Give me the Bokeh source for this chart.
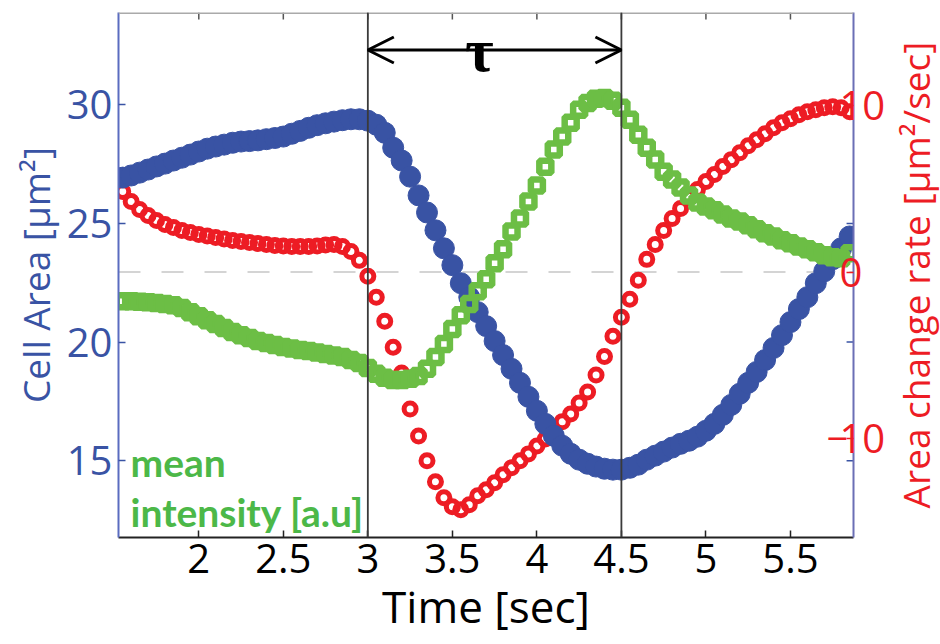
from bokeh.plotting import figure
from bokeh.layouts import row
from bokeh.models import Range1d, LinearAxis, FixedTicker, Span, Arrow, OpenHead, Label
from bokeh.embed import file_html
from bokeh.resources import INLINE

# ---------------- data ----------------
time_s = [1.55, 1.60, 1.65, 1.70, 1.75, 1.80, 1.85, 1.90, 1.95, 2.00,
          2.05, 2.10, 2.15, 2.20, 2.25, 2.30, 2.35, 2.40, 2.45, 2.50,
          2.55, 2.60, 2.65, 2.70, 2.75, 2.80, 2.85, 2.90, 2.95, 3.00,
          3.05, 3.10, 3.15, 3.20, 3.25, 3.30, 3.35, 3.40, 3.45, 3.50,
          3.55, 3.60, 3.65, 3.70, 3.75, 3.80, 3.85, 3.90, 3.95, 4.00,
          4.05, 4.10, 4.15, 4.20, 4.25, 4.30, 4.35, 4.40, 4.45, 4.50,
          4.55, 4.60, 4.65, 4.70, 4.75, 4.80, 4.85, 4.90, 4.95, 5.00,
          5.05, 5.10, 5.15, 5.20, 5.25, 5.30, 5.35, 5.40, 5.45, 5.50,
          5.55, 5.60, 5.65, 5.70, 5.75, 5.80, 5.85]

cell_area = [26.93, 27.02, 27.14, 27.27, 27.40, 27.52, 27.65, 27.77, 27.90, 28.03,
             28.15, 28.24, 28.32, 28.40, 28.45, 28.47, 28.50, 28.55, 28.60, 28.66,
             28.78, 28.90, 29.03, 29.14, 29.22, 29.29, 29.35, 29.39, 29.39, 29.33,
             29.16, 28.82, 28.19, 27.65, 26.97, 26.18, 25.46, 24.71, 23.95, 23.24,
             22.48, 21.89, 21.26, 20.67, 20.04, 19.45, 18.87, 18.28, 17.69, 17.10,
             16.55, 16.05, 15.63, 15.29, 15.04, 14.87, 14.75, 14.66, 14.62, 14.62,
             14.70, 14.83, 15.04, 15.21, 15.38, 15.55, 15.71, 15.84, 16.01, 16.26,
             16.55, 16.93, 17.35, 17.82, 18.28, 18.74, 19.24, 19.75, 20.29, 20.84,
             21.39, 21.89, 22.48, 22.98, 23.49, 23.95, 24.45]

change_rate = [4.84, 4.24, 3.76, 3.40, 3.10, 2.86, 2.68, 2.50, 2.38, 2.26,
               2.17, 2.08, 1.99, 1.90, 1.84, 1.78, 1.72, 1.66, 1.60, 1.57,
               1.54, 1.54, 1.54, 1.57, 1.63, 1.66, 1.54, 1.24, 0.70, -0.26,
               -1.52, -2.96, -4.52, -6.08, -8.24, -9.86, -11.36, -12.62, -13.58, -14.12,
               -14.30, -14.00, -13.46, -13.10, -12.68, -12.20, -11.78, -11.36, -10.94, -10.46,
               -10.04, -9.56, -9.00, -8.54, -7.88, -7.22, -6.20, -5.08, -3.86, -2.72,
               -1.64, -0.50, 0.76, 1.66, 2.50, 3.22, 3.82, 4.48, 4.96, 5.44,
               5.86, 6.34, 6.76, 7.18, 7.60, 7.96, 8.32, 8.68, 8.98, 9.22,
               9.46, 9.64, 9.76, 9.88, 9.94, 9.88, 9.64]

# mean intensity (a.u.), drawn against the cell-area scale
mean_intensity = [21.72, 21.72, 21.70, 21.68, 21.64, 21.60, 21.55, 21.43, 21.26, 21.09,
                  20.92, 20.76, 20.59, 20.42, 20.29, 20.17, 20.04, 19.96, 19.87, 19.79,
                  19.73, 19.66, 19.62, 19.56, 19.50, 19.43, 19.37, 19.24, 19.12, 18.91,
                  18.66, 18.49, 18.40, 18.40, 18.45, 18.57, 18.87, 19.37, 19.92, 20.55,
                  21.13, 21.60, 22.14, 22.65, 23.32, 23.91, 24.66, 25.21, 25.92, 26.60,
                  27.39, 28.11, 28.66, 29.24, 29.79, 30.08, 30.25, 30.29, 30.17, 29.87,
                  29.37, 28.74, 28.19, 27.69, 27.18, 26.85, 26.51, 26.18, 25.88, 25.71,
                  25.55, 25.38, 25.21, 25.08, 24.92, 24.75, 24.58, 24.45, 24.29, 24.16,
                  24.03, 23.91, 23.78, 23.66, 23.57, 23.53, 23.74]

x_ticks = [2, 2.5, 3, 3.5, 4, 4.5, 5, 5.5]
x_tick_labels = ["2", "2.5", "3", "3.5", "4", "4.5", "5", "5.5"]
area_ticks = [15, 20, 25, 30]
rate_ticks = [-10, 0, 10]
rate_tick_labels = ["10", "0", "10"]   # the minus of -10 is drawn inside the frame
tau_start, tau_end = 3.0, 4.5

# ---------------- style ----------------
BLUE = "#3953a4"
RED = "#ed1c24"
GREEN = "#6cbe45"
GREEN_TXT = "#4cb848"
FONT = "Open Sans"

X0, X1 = 1.525, 5.873
A0, A1 = 11.76, 33.89
R0, R1 = -15.97, 15.61
H = 644
TOP, BOTTOM = 12, 107

p = figure(width=889, height=H, output_backend="svg", toolbar_location=None,
           x_range=Range1d(X0, X1), y_range=Range1d(A0, A1),
           min_border_left=118, min_border_right=36, min_border_top=TOP,
           min_border_bottom=BOTTOM, background_fill_color="white",
           border_fill_color="white")
p.extra_y_ranges = {"rate": Range1d(R0, R1)}
p.grid.visible = False
p.outline_line_color = None


def rate_to_area(r):
    return A0 + (r - R0) / (R1 - R0) * (A1 - A0)


# bottom axis
xa = p.xaxis[0]
xa.ticker = FixedTicker(ticks=x_ticks)
xa.major_label_overrides = {t: s for t, s in zip(x_ticks, x_tick_labels)}
xa.axis_line_color = "#222222"
xa.axis_line_width = 2
xa.major_tick_line_color = "#222222"
xa.major_tick_line_width = 1.5
xa.major_tick_in = 7
xa.major_tick_out = 0
xa.minor_tick_line_color = None
xa.major_label_text_font = FONT
xa.major_label_text_font_size = "40px"
xa.major_label_text_color = "black"
xa.major_label_standoff = 6
xa.axis_label = "Time [sec]"
xa.axis_label_text_font = FONT
xa.axis_label_text_font_size = "44px"
xa.axis_label_text_font_style = "normal"
xa.axis_label_text_color = "black"
xa.axis_label_standoff = 0

# left axis
ya = p.yaxis[0]
ya.ticker = FixedTicker(ticks=area_ticks)
ya.axis_line_color = "#5a6cc0"
ya.axis_line_width = 2
ya.major_tick_line_color = BLUE
ya.major_tick_line_width = 1.5
ya.major_tick_in = 7
ya.major_tick_out = 0
ya.minor_tick_line_color = None
ya.major_label_text_font = FONT
ya.major_label_text_font_size = "40px"
ya.major_label_text_color = BLUE
ya.major_label_standoff = 6
ya.axis_label = "Cell Area [μm²]"
ya.axis_label_text_font = FONT
ya.axis_label_text_font_size = "37px"
ya.axis_label_text_font_style = "normal"
ya.axis_label_text_color = BLUE
ya.axis_label_standoff = 3

# right axis: ticks and tick labels (its title is drawn in the narrow panel beside)
ra = LinearAxis(y_range_name="rate", ticker=FixedTicker(ticks=rate_ticks))
ra.major_label_overrides = {t: s for t, s in zip(rate_ticks, rate_tick_labels)}
ra.axis_line_color = "#6b6fb5"
ra.axis_line_width = 2
ra.major_tick_line_color = RED
ra.major_tick_line_width = 1.5
ra.major_tick_in = 7
ra.major_tick_out = 0
ra.minor_tick_line_color = None
ra.minor_tick_out = 0
ra.major_label_text_font = FONT
ra.major_label_text_font_size = "40px"
ra.major_label_text_color = RED
ra.major_label_standoff = -14
p.add_layout(ra, "right")

# zero line of the rate axis
p.add_layout(Span(location=0, dimension="width", y_range_name="rate",
                  line_color="#d4d4d4", line_width=2, line_dash="22 21",
                  level="underlay"))

# top-edge frame line and inward ticks, mirrored left-axis ticks on the right edge
p.add_layout(Span(location=A1, dimension="width", line_color="#aaaaaa", line_width=3))
tick_dy = 0.29
tick_dx = 0.041
p.segment(x0=x_ticks, y0=[A1] * len(x_ticks), x1=x_ticks,
          y1=[A1 - tick_dy] * len(x_ticks), line_color="#555555", line_width=1.5)
p.segment(x0=[X1] * len(area_ticks), y0=area_ticks, x1=[X1 - tick_dx] * len(area_ticks),
          y1=area_ticks, line_color=BLUE, line_width=1.5)

# data
p.scatter(time_s, change_rate, y_range_name="rate", marker="circle", size=12,
          fill_color=None, line_color=RED, line_width=5)
p.scatter(time_s, cell_area, marker="circle", size=21,
          fill_color=BLUE, line_color=BLUE, line_width=1)
p.scatter(time_s, mean_intensity, marker="square", size=12,
          fill_color=None, line_color=GREEN, line_width=6.5)

# tau markers
for loc in (tau_start, tau_end):
    p.add_layout(Span(location=loc, dimension="height", line_color="#3a3a3a",
                      line_width=1.8))
arrow_y = 32.31
p.add_layout(Arrow(start=OpenHead(size=26, line_width=3, line_color="black"),
                   end=OpenHead(size=26, line_width=3, line_color="black"),
                   x_start=tau_start, y_start=arrow_y, x_end=tau_end, y_end=arrow_y,
                   line_width=3, line_color="black"))
p.add_layout(Label(x=3.66, y=32.30, text="τ", text_font="Liberation Serif",
                   text_font_style="bold", text_font_size="62px",
                   text_align="center", text_baseline="alphabetic",
                   text_color="black"))

# minus sign of the right-axis -10 label, sitting inside the frame as in the original
p.add_layout(Label(x=X1, y=rate_to_area(rate_ticks[0]), x_offset=-27, text="−",
                   text_font=FONT, text_font_size="38px", text_color=RED,
                   text_baseline="middle", text_align="left"))

# green series annotation
p.add_layout(Label(x=1.596, y=14.96, text="mean", text_font="Lato",
                   text_font_style="bold", text_font_size="39px",
                   text_color=GREEN_TXT, text_baseline="alphabetic"))
p.add_layout(Label(x=1.596, y=12.82, text="intensity [a.u]", text_font="Lato",
                   text_font_style="bold", text_font_size="39px",
                   text_color=GREEN_TXT, text_baseline="alphabetic"))

# narrow panel carrying the right-axis title, reading bottom-to-top as in the original
p2 = figure(width=51, height=H, output_backend="svg", toolbar_location=None,
            x_range=Range1d(0, 1), y_range=Range1d(0, 1), x_axis_location=None,
            min_border_left=45, min_border_right=0, min_border_top=TOP,
            min_border_bottom=BOTTOM, background_fill_color="white",
            border_fill_color="white")
p2.grid.visible = False
p2.outline_line_color = None
ax2 = p2.yaxis[0]
ax2.ticker = FixedTicker(ticks=[])
ax2.axis_line_color = None
ax2.major_tick_line_color = None
ax2.minor_tick_line_color = None
ax2.major_tick_in = 0
ax2.major_tick_out = 0
ax2.minor_tick_in = 0
ax2.minor_tick_out = 0
ax2.major_label_standoff = 0
ax2.axis_label = "Area change rate [μm²/sec]"
ax2.axis_label_text_font = FONT
ax2.axis_label_text_font_size = "37px"
ax2.axis_label_text_font_style = "normal"
ax2.axis_label_text_color = RED
ax2.axis_label_standoff = 0

layout = row(p, p2)
open("out.html", "w").write(file_html(layout, INLINE))
